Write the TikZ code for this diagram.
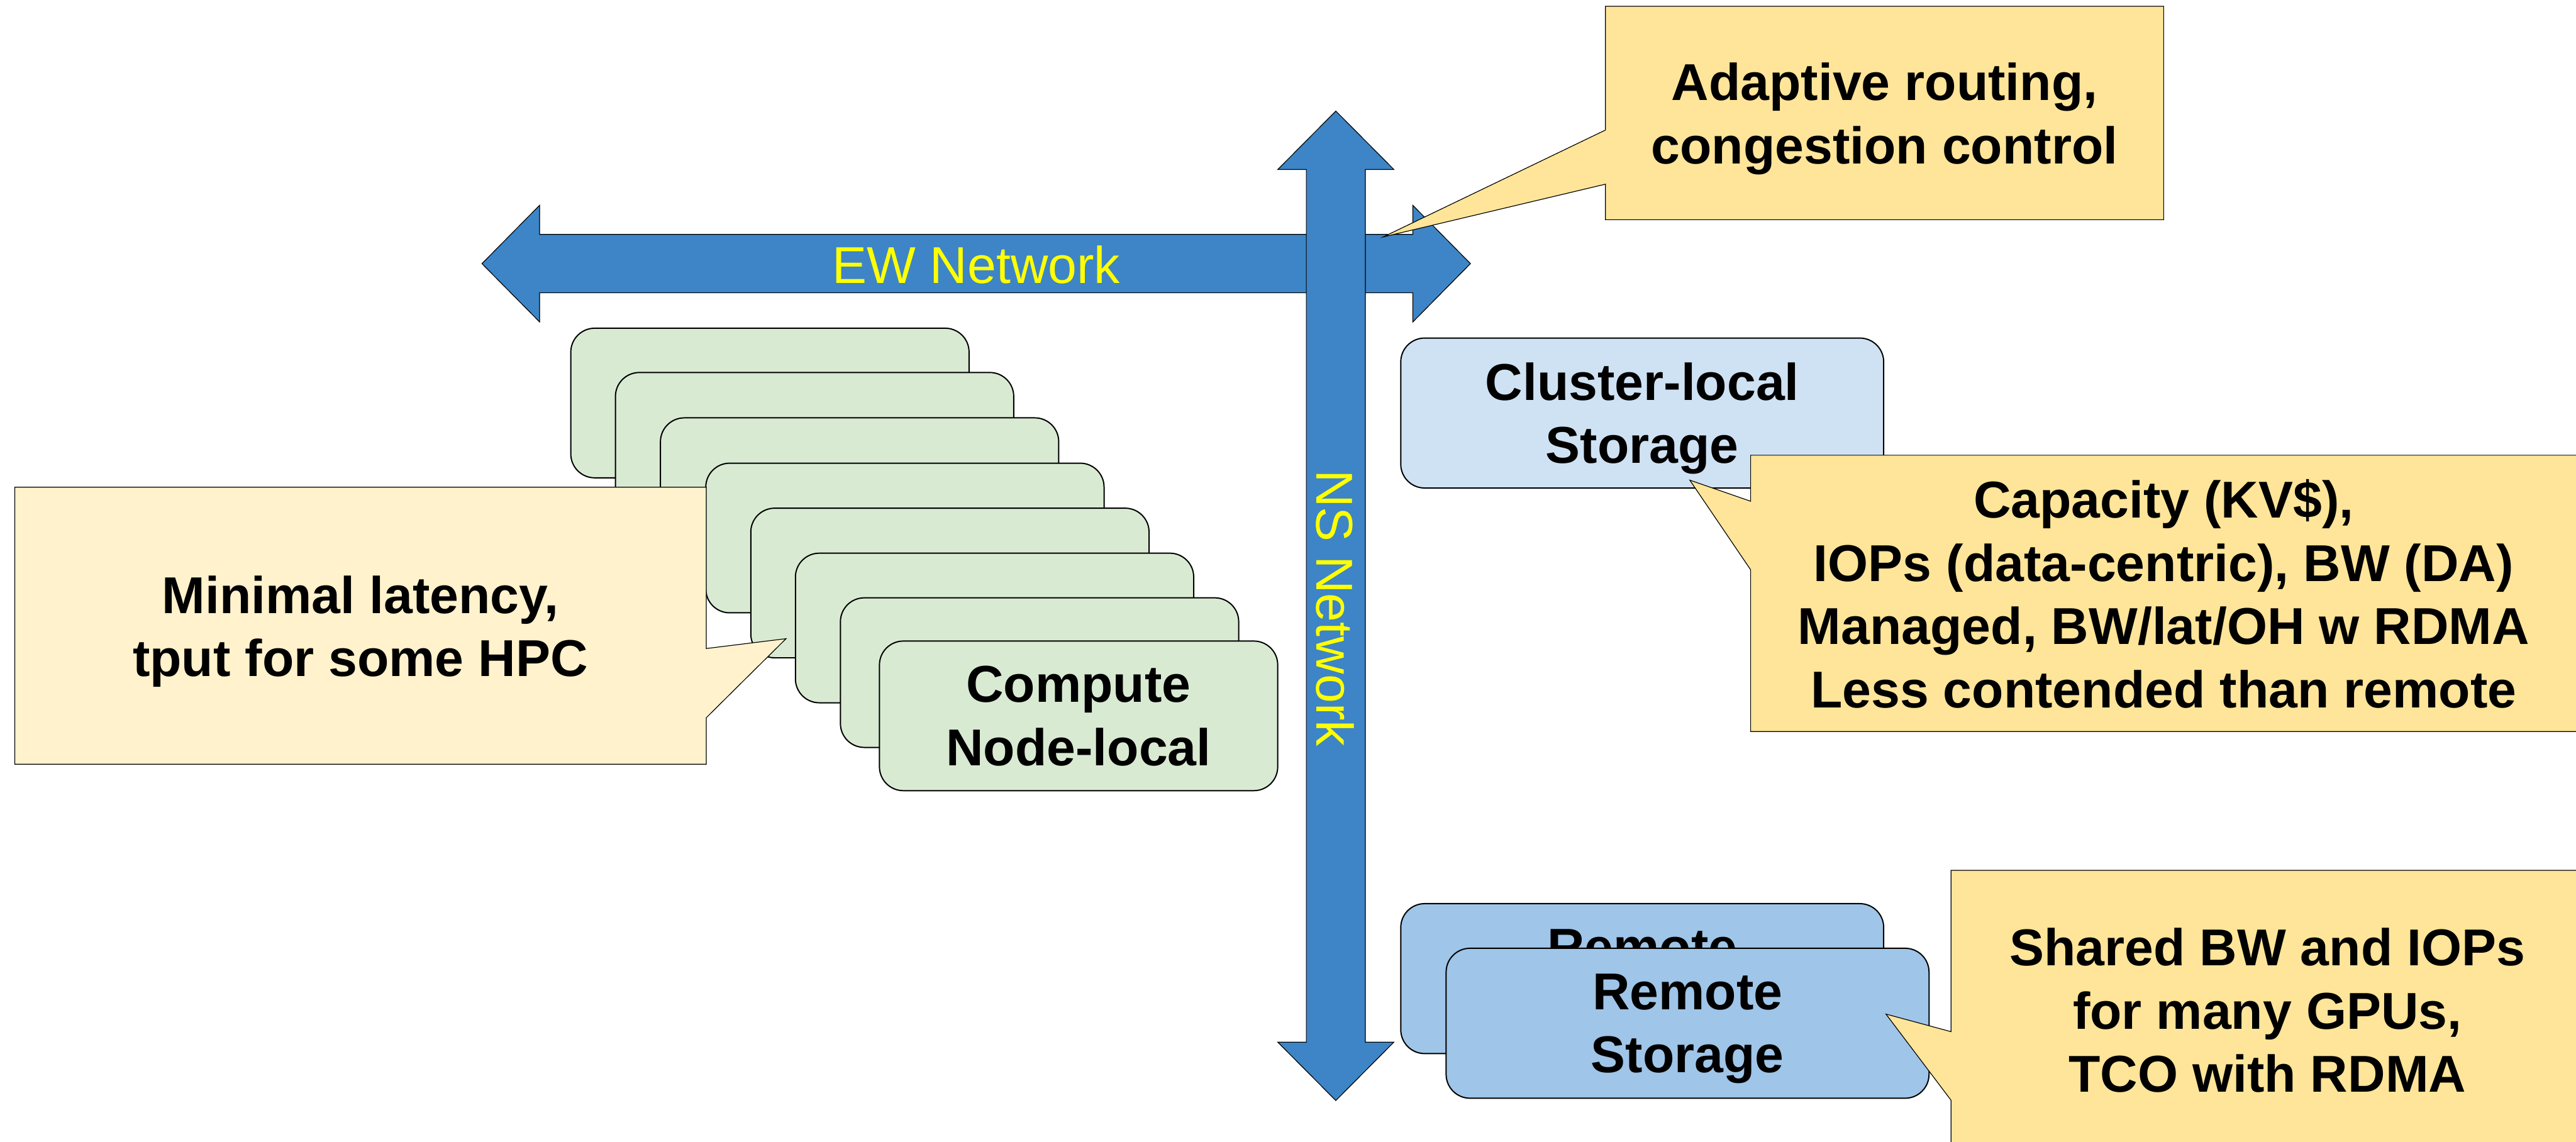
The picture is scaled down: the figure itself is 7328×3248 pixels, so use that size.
\documentclass[tikz,border=0pt]{standalone}
\usepackage{fontspec}
\setmainfont{Liberation Sans}
\definecolor{netblue}{HTML}{3D85C6}
\definecolor{labelyellow}{HTML}{FFFF00}
\definecolor{nodegreen}{HTML}{D9EAD3}
\definecolor{clusterblue}{HTML}{CFE2F3}
\definecolor{remoteblue}{HTML}{9FC5E8}
\definecolor{noteyellow}{HTML}{FFE599}
\definecolor{notecream}{HTML}{FFF2CC}
\tikzset{
  netarrow/.style={fill=netblue, draw=black, line width=0.3pt, line join=miter},
  netlabel/.style={text=labelyellow, inner sep=0pt, font=\fontsize{21}{25.6}\selectfont},
  notebox/.style={draw=black, line width=0.3pt, line join=miter},
  notetext/.style={align=center, inner sep=0pt, font=\fontsize{21}{25.6}\selectfont\bfseries},
  stackbox/.style={draw=black, line width=0.5pt, rounded corners=0.34cm, inner sep=0pt,
    anchor=north west, align=center, font=\fontsize{21}{25.6}\selectfont\bfseries},
  computebox/.style={stackbox, fill=nodegreen, minimum width=5.67cm, minimum height=2.13cm},
  storebox/.style={stackbox, minimum width=6.875cm, minimum height=2.135cm},
}
\begin{document}
\begin{tikzpicture}[x=0.005cm, y=-0.005cm]
\useasboundingbox (0,0) rectangle (7328,3248);

% East-west network: double-headed arrow
\draw[netarrow] (1371,750) -- (1535,584) -- (1535,667) -- (4019,667) -- (4019,584)
  -- (4183,750) -- (4019,916) -- (4019,833) -- (1535,833) -- (1535,916) -- cycle;
\node[netlabel, anchor=base] (ewlabel) at (2777,806) {EW Network};

% North-south network: double-headed arrow, drawn over the EW one
\draw[netarrow] (3800,316) -- (3965,482) -- (3884,482) -- (3884,2965) -- (3965,2965)
  -- (3800,3131) -- (3635,2965) -- (3716,2965) -- (3716,482) -- (3635,482) -- cycle;
\node[netlabel, rotate=-90, anchor=base] (nslabel) at (3745,1730) {NS Network};

% Note on the network
\draw[notebox, fill=noteyellow] (4567,18) -- (6155,18) -- (6155,625) -- (4567,625)
  -- (4567,524) -- (3935,674) -- (4567,370) -- cycle;
\node[notetext] (adaptivetext) at (5361,322) {Adaptive routing,\\\smash{congestion control}};

% Stack of compute nodes (back ones first)
\foreach \n/\x/\y in {1/1622/932, 2/1749/1058, 3/1877/1187, 4/2006/1316, 5/2134/1444}
  \node[computebox] (compute\n) at (\x,\y) {};

% Note on node-local storage
\draw[notebox, fill=notecream] (42,1386) -- (2009,1386) -- (2009,1845) -- (2236,1817)
  -- (2009,2042) -- (2009,2174) -- (42,2174) -- cycle;
\node[notetext] (latencytext) at (1025,1781) {Minimal latency,\\\smash{tput for some HPC}};

\foreach \n/\x/\y in {6/2261/1572, 7/2389/1699}
  \node[computebox] (compute\n) at (\x,\y) {};
\node[computebox] (compute8) at (2500,1822) {Compute\\\smash{Node-local}};

% Cluster-local storage and its note
\node[storebox, fill=clusterblue] (cluster) at (3983,960) {Cluster-local\\\smash{Storage}};
\draw[notebox, fill=noteyellow] (4980,1295) -- (7345,1295) -- (7345,2081) -- (4980,2081)
  -- (4980,1621) -- (4807,1366) -- (4980,1426) -- cycle;
\node[notetext] (clustertext) at (6155,1689)
  {Capacity (KV\$),\\IOPs (data-centric), BW (DA)\\Managed, BW/lat/OH w RDMA\\Less contended than remote};

% Remote storage (two stacked) and its note
\node[storebox, fill=remoteblue] (remoteback) at (3983,2569) {Remote\\\smash{Storage}};
\node[storebox, fill=remoteblue] (remotefront) at (4112,2696) {Remote\\\smash{Storage}};
\draw[notebox, fill=noteyellow] (5550,2476) -- (7360,2476) -- (7360,3280) -- (5550,3280)
  -- (5550,3130) -- (5365,2885) -- (5550,2935) -- cycle;
\node[notetext] (remotetext) at (6450,2875) {Shared BW and IOPs\\for many GPUs,\\TCO with RDMA};
\end{tikzpicture}
\end{document}
